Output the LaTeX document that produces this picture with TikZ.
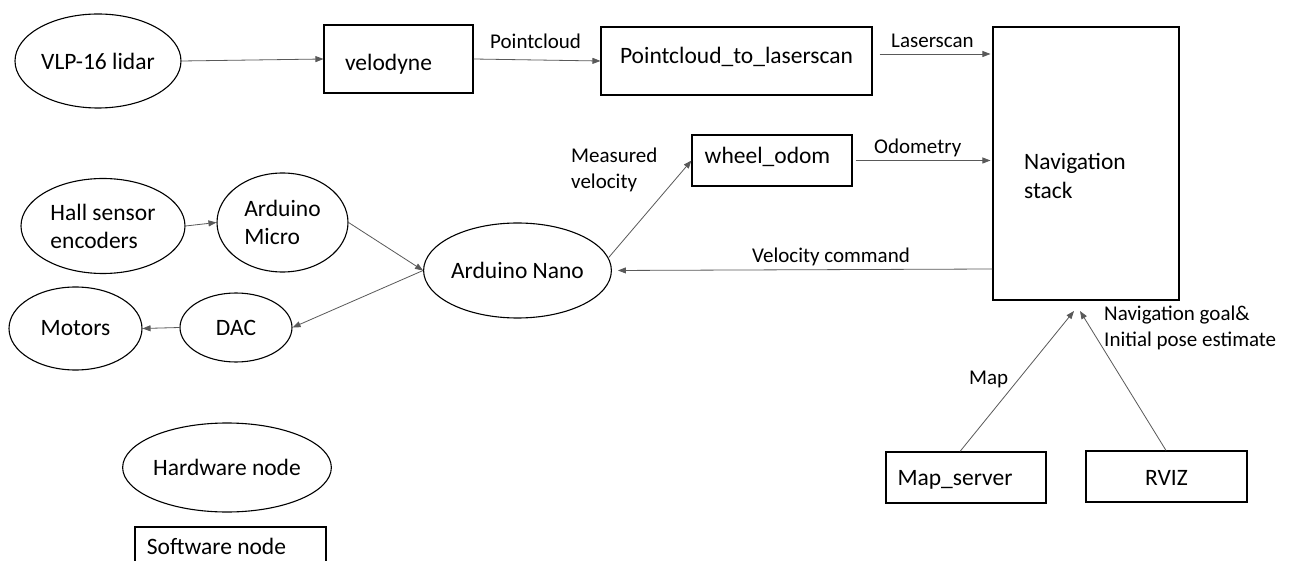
\documentclass[tikz,border=0pt]{standalone}
\usepackage{fontspec}
\setmainfont{Carlito}
\usetikzlibrary{arrows.meta,shapes.geometric}
% text set on a baseline at a given offset from the box centre
\newcommand{\onbase}[2]{\smash{\raisebox{#1}{#2}}}
\begin{document}
\begin{tikzpicture}[x=1pt,y=-1pt,
  hw/.style={draw=black,line width=1.1pt,ellipse,inner sep=0pt,
    font=\fontsize{23.5}{28}\selectfont,align=left},
  sw/.style={draw=black,line width=1.1pt,rectangle,inner sep=0pt,
    font=\fontsize{23.5}{28}\selectfont},
  link/.style={draw=black!65,line width=0.8pt,-{Triangle[length=8pt,width=6pt]}},
  lbl/.style={font=\fontsize{21}{26}\selectfont,inner sep=0pt,align=left,anchor=west},
  txt/.style={font=\fontsize{23.5}{28.5}\selectfont,inner sep=0pt,align=left,anchor=west}]
\clip (0,0) rectangle (1293,561);
\fill[white] (0,0) rectangle (1293,561);

% hardware nodes
\node[hw,minimum width=166pt,minimum height=94pt] (lidar) at (98,61) {VLP-16 lidar};
\node[hw,minimum width=164pt,minimum height=95pt] (hall) at (103,226) {Hall sensor\\encoders};
\node[hw,minimum width=131pt,minimum height=99pt] (micro) at (282.5,222.5) {Arduino\\Micro};
\node[hw,minimum width=133pt,minimum height=83pt] (motors) at (75.5,328.5) {Motors};
\node[hw,minimum width=112pt,minimum height=69pt] (dac) at (236,327.5) {DAC};
\node[hw,minimum width=185pt,minimum height=95pt] (nano) at (517.5,270.5) {Arduino Nano};
\node[hw,minimum width=186pt,minimum height=89pt] (hwkey) at (227,467.5) {Hardware node};

% software nodes
\node[sw,minimum width=149pt,minimum height=68pt] (velodyne) at (398.5,59) {\onbase{-12pt}{velodyne}\hspace*{20pt}};
\node[sw,minimum width=271pt,minimum height=68pt] (p2l) at (736.5,61) {\onbase{-3pt}{Pointcloud\_to\_laserscan}};
\node[sw,minimum width=160pt,minimum height=51pt] (wodom) at (772,160.5) {\onbase{-3pt}{wheel\_odom}\hspace*{9pt}};
\node[sw,minimum width=186pt,minimum height=273pt] (nav) at (1086,163.5) {};
\node[txt] (navtext) at (1024,176) {Navigation\\stack};
\node[sw,minimum width=160pt,minimum height=51pt] (mapsrv) at (966,477.5) {\onbase{-8pt}{Map\_server}\hspace*{22pt}};
\node[sw,minimum width=161pt,minimum height=51pt] (rviz) at (1166.5,476.5) {\onbase{-9pt}{RVIZ}};
\node[sw,minimum width=191pt,minimum height=60pt] (swkey) at (230.5,557) {\onbase{3pt}{Software node}\hspace*{28pt}};

% arrow ends below the navigation stack
\coordinate (mapin) at (1074,311);
\coordinate (rvizin) at (1080,311);

% connectors
\draw[link] (lidar.east) -- (velodyne.west);
\draw[link] (velodyne.east) -- (p2l.west);
\draw[link,shorten <=7pt,shorten >=2pt] (p2l.east |- 0,54) -- (nav.west |- 0,54);
\draw[link,shorten <=3pt,shorten >=2pt] (wodom.east) -- (nav.west |- wodom.east);
\draw[link,shorten >=6pt] (nav.west |- 0,269) -- (nano.east);
\draw[link] (nano.8) -- (wodom.west);
\draw[link] (hall.east) -- (micro.west);
\draw[link] (micro.east) -- (nano.west);
\draw[link] (nano.west) -- (dac.east);
\draw[link] (dac.west) -- (motors.east);
\draw[link] (mapsrv.north -| 960,0) -- (mapin);
\draw[link] (rviz.north -| 1166,0) -- (rvizin);

% connector labels
\node[lbl] (lpc) at (490,41) {Pointcloud};
\node[lbl] (lls) at (891,41) {Laserscan};
\node[lbl] (lod) at (874,148) {Odometry};
\node[lbl] (lvc) at (752,257) {Velocity command};
\node[lbl] (lmv) at (571,170) {Measured\\velocity};
\node[lbl] (lmap) at (969,379) {Map};
\node[lbl] (lgoal) at (1104,328) {Navigation goal\&\\Initial pose estimate};
\end{tikzpicture}
\end{document}
